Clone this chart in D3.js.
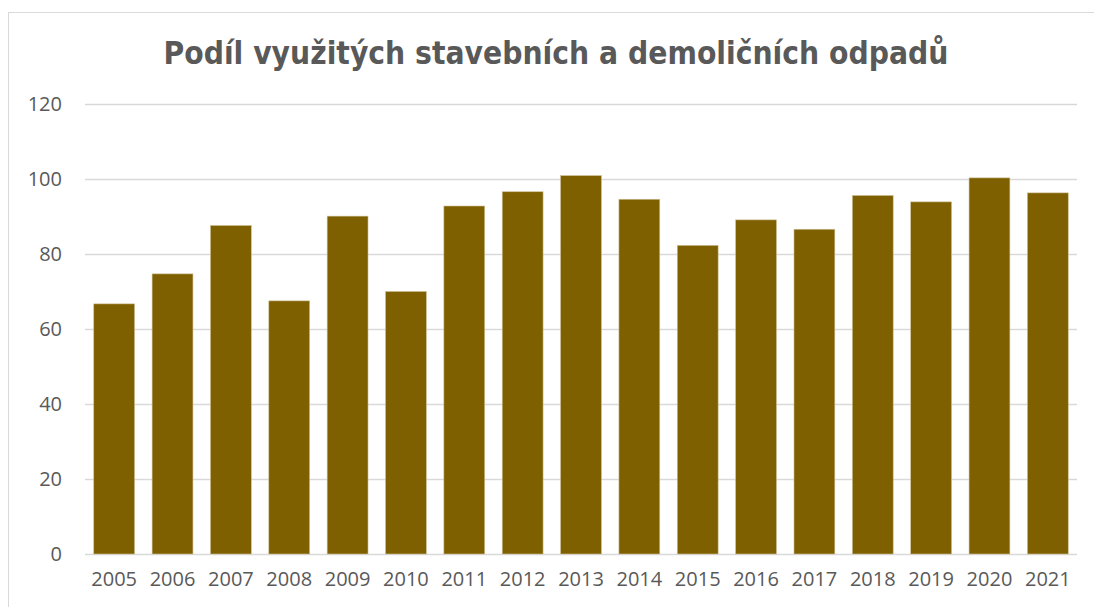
<!DOCTYPE html>
<html>
<head>
<meta charset="utf-8">
<script src="https://cdn.jsdelivr.net/npm/d3@7"></script>
<style>
  body { margin: 0; background: #fff; }
  svg { display: block; }
</style>
</head>
<body>
<div id="canvas"></div>
<script>
const years = ["2005", "2006", "2007", "2008", "2009", "2010", "2011", "2012", "2013",
  "2014", "2015", "2016", "2017", "2018", "2019", "2020", "2021"];
const shares = [66.7, 74.7, 87.6, 67.5, 90.1, 70.0, 92.8, 96.6, 100.9,
  94.6, 82.3, 89.1, 86.6, 95.6, 93.9, 100.3, 96.3];
const yTicks = [0, 20, 40, 60, 80, 100, 120];
const title = "Podíl využitých stavebních a demoličních odpadů";

const W = 1094, H = 607;
const margin = { top: 104, right: 17, bottom: 53, left: 85 };
const width = W - margin.left - margin.right;
const height = H - margin.top - margin.bottom;

const svg = d3.select("#canvas").append("svg")
  .attr("width", W)
  .attr("height", H);

// chart frame
svg.append("rect")
  .attr("x", 8.5).attr("y", 12.5)
  .attr("width", W).attr("height", H)
  .attr("fill", "none")
  .attr("stroke", "#d9d9d9");

svg.append("text")
  .attr("x", 556).attr("y", 64)
  .attr("text-anchor", "middle")
  .attr("font-family", "DejaVu Sans")
  .attr("font-weight", "bold")
  .attr("font-size", 32)
  .attr("textLength", 785)
  .attr("lengthAdjust", "spacingAndGlyphs")
  .attr("fill", "#595959")
  .text(title);

const g = svg.append("g")
  .attr("transform", "translate(" + margin.left + "," + margin.top + ")");

var x = d3.scaleBand().domain(years).range([0, width]).paddingInner(0.3).paddingOuter(0.15);
var y = d3.scaleLinear().domain([0, 120]).range([height, 0]);

// gridlines + y labels
const yAxis = g.append("g")
  .call(d3.axisLeft(y).tickValues(yTicks).tickSize(-width).tickPadding(23));
yAxis.select(".domain").remove();
yAxis.selectAll(".tick line").attr("stroke", "#d9d9d9").attr("stroke-width", 1.5);
yAxis.selectAll(".tick text")
  .attr("font-family", "Open Sans, sans-serif")
  .attr("font-size", 20)
  .attr("fill", "#595959");

g.selectAll("rect.bar")
  .data(shares)
  .enter()
  .append("rect")
  .attr("class", "bar")
  .attr("x", function (d, i) { return x(years[i]); })
  .attr("y", function (d) { return y(d); })
  .attr("width", x.bandwidth())
  .attr("height", function (d) { return height - y(d); })
  .attr("fill", "#7f6000")
  .attr("stroke", "#cdbf95")
  .attr("stroke-width", 0.6);

const xAxis = g.append("g")
  .attr("transform", "translate(0," + height + ")")
  .call(d3.axisBottom(x).tickSize(0).tickPadding(18));
xAxis.select(".domain").remove();
xAxis.selectAll(".tick text")
  .attr("font-family", "Open Sans, sans-serif")
  .attr("font-size", 20)
  .attr("fill", "#595959");
</script>
</body>
</html>
